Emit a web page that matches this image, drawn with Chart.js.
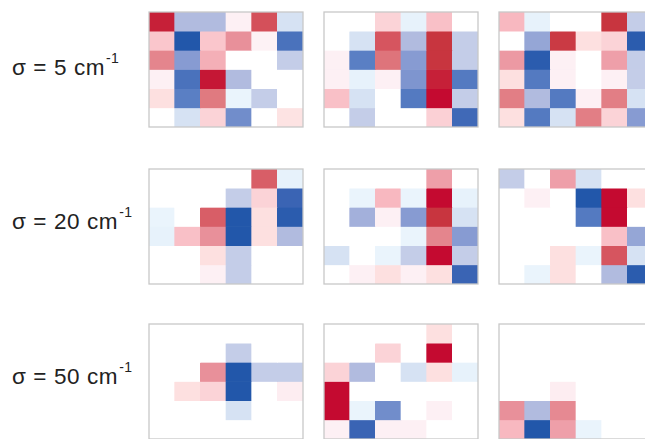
<!DOCTYPE html>
<html>
<head>
<meta charset="utf-8">
<script src="https://cdn.jsdelivr.net/npm/chart.js@4/dist/chart.umd.min.js"></script>
<style>
  html, body { margin: 0; padding: 0; background: #fff; }
  body { width: 645px; height: 439px; overflow: hidden; position: relative; font-family: "Liberation Sans", Arial, sans-serif; }
  .lbl { position: absolute; left: 12px; font-size: 22.5px; letter-spacing: 0.6px; color: #222; white-space: nowrap; line-height: 1; }
  .lbl sup { font-size: 14px; position: relative; top: -3px; margin-left: 1px; letter-spacing: 0.3px; }
  .pan { position: absolute; width: 156px; height: 117px; }
</style>
</head>
<body>
<div class="lbl" id="l0" style="top:54px">σ = 5 cm<sup>-1</sup></div>
<div class="lbl" id="l1" style="top:208px">σ = 20 cm<sup>-1</sup></div>
<div class="lbl" id="l2" style="top:363px">σ = 50 cm<sup>-1</sup></div>
<script>
// Row labels and column categories
const rowLabels = ["σ = 5 cm-1", "σ = 20 cm-1", "σ = 50 cm-1"];
const columns = ["1", "2", "3", "4", "5", "6"];

// Panel values (rows listed top to bottom), scale -1 (blue) .. +1 (red)
const p5a = [
  [0.95, -0.55, -0.55, 0.08, 0.8, -0.25],
  [0.35, -0.98, 0.35, 0.55, 0.07, -0.85],
  [0.6, -0.7, 0.45, 0, 0, -0.4],
  [0.08, -0.85, 0.97, -0.55, 0, 0],
  [0.2, -0.8, 0.65, -0.1, -0.4, 0],
  [0, -0.25, 0.28, -0.75, 0, 0.18]
];
const p5b = [
  [0, 0, 0.28, -0.12, 0.38, 0],
  [0, -0.25, 0.78, -0.55, 0.9, -0.4],
  [0.08, -0.8, 0.67, -0.7, 0.9, -0.4],
  [0.08, -0.12, 0.08, -0.72, 0.95, -0.82],
  [0.38, -0.25, 0, -0.82, 1.0, -0.4],
  [0, -0.4, 0, 0, 0.3, -0.88]
];
const p5c = [
  [0.42, -0.12, 0, 0, 0.9, -0.4],
  [0, -0.65, 0.88, 0.2, 0.28, -0.95],
  [0.52, -0.95, 0.08, 0, 0.5, -0.4],
  [0.2, -0.82, 0.08, 0, 0.08, -0.4],
  [0.63, -0.55, -0.82, 0.08, 0.63, -0.25],
  [0.2, -0.82, -0.25, 0.63, 0.28, -0.7]
];
const p20a = [
  [0, 0, 0, 0, 0.75, -0.12],
  [0, 0, 0, -0.4, 0.28, -0.9],
  [-0.1, 0, 0.75, -0.98, 0.2, -0.95],
  [-0.12, 0.38, 0.55, -0.98, 0.2, -0.55],
  [0, 0, 0.2, -0.4, 0, 0],
  [0, 0, 0.08, -0.4, 0, 0]
];
const p20b = [
  [0, 0, 0, 0, 0.5, 0],
  [0, -0.1, 0.42, -0.1, 1.0, -0.12],
  [0, -0.6, 0.08, -0.7, 0.9, -0.25],
  [0, 0, 0, -0.1, 0.6, -0.7],
  [-0.25, 0, -0.1, -0.4, 1.0, -0.4],
  [0, 0.08, 0.2, 0.08, 0.2, -0.9]
];
const p20c = [
  [-0.4, 0, 0.5, -0.25, 0, 0],
  [0, 0.08, 0, -0.98, 1.0, 0.2],
  [0, 0, 0, -0.82, 1.0, 0],
  [0, 0, 0, 0, 0.38, -0.65],
  [0, 0, 0.2, -0.1, 0.78, -0.25],
  [0, -0.1, 0.2, 0, -0.55, -0.95]
];
const p50a = [
  [0, 0, 0, 0, 0, 0],
  [0, 0, 0, -0.4, 0, 0],
  [0, 0, 0.55, -0.98, -0.4, -0.4],
  [0, 0.2, 0.28, -0.98, 0, 0.1],
  [0, 0, 0, -0.25, 0, 0],
  [0, 0, 0, 0, 0, 0]
];
const p50b = [
  [0, 0, 0, 0, 0.2, 0],
  [0, 0, 0.28, 0, 1.0, 0],
  [0.28, -0.55, 0, -0.25, 0.2, -0.12],
  [1.0, 0, 0, 0, 0, 0],
  [1.0, -0.1, -0.75, 0, 0.08, 0],
  [0.08, -0.9, 0.08, 0.08, 0, 0]
];
const p50c = [
  [0, 0, 0, 0, 0, 0],
  [0, 0, 0, 0, 0, 0],
  [0, 0, 0, 0, 0, 0],
  [0, 0, 0.1, 0, 0, 0],
  [0.55, -0.55, 0.58, 0, 0, 0],
  [0.42, -0.98, 0.5, -0.1, 0, 0]
];

const panels = [
  [p5a, p5b, p5c],
  [p20a, p20b, p20c],
  [p50a, p50b, p50c]
];

// Diverging colour map
const stops = [
  [-1.0, [28, 84, 168]],
  [-0.9, [58, 100, 180]],
  [-0.8, [90, 127, 196]],
  [-0.7, [135, 155, 210]],
  [-0.55, [177, 187, 223]],
  [-0.4, [196, 205, 232]],
  [-0.25, [214, 226, 243]],
  [-0.1, [234, 244, 252]],
  [0, [255, 255, 255]],
  [0.08, [253, 240, 244]],
  [0.2, [253, 224, 224]],
  [0.3, [251, 208, 213]],
  [0.42, [248, 184, 192]],
  [0.55, [232, 144, 154]],
  [0.65, [224, 122, 128]],
  [0.78, [214, 85, 95]],
  [0.9, [200, 53, 63]],
  [1.0, [196, 10, 48]]
];
function cmap(v) {
  if (v <= stops[0][0]) return 'rgb(' + stops[0][1].join(',') + ')';
  for (let i = 1; i < stops.length; i++) {
    if (v <= stops[i][0]) {
      const a = stops[i - 1], b = stops[i];
      const t = (v - a[0]) / (b[0] - a[0]);
      const c = a[1].map((x, k) => Math.round(x + (b[1][k] - x) * t));
      return 'rgb(' + c.join(',') + ')';
    }
  }
  return 'rgb(' + stops[stops.length - 1][1].join(',') + ')';
}

const frame = {
  id: 'frame',
  afterDatasetsDraw(chart) {
    const a = chart.chartArea, ctx = chart.ctx;
    ctx.save();
    ctx.strokeStyle = '#c8c8c8';
    ctx.lineWidth = 1.3;
    ctx.strokeRect(a.left, a.top, a.right - a.left, a.bottom - a.top);
    ctx.restore();
  }
};

const lefts = [148, 323, 498];
const tops = [11, 168, 323];

panels.forEach((row, r) => {
  row.forEach((mat, c) => {
    const div = document.createElement('div');
    div.className = 'pan';
    div.style.left = lefts[c] + 'px';
    div.style.top = tops[r] + 'px';
    const cv = document.createElement('canvas');
    div.appendChild(cv);
    document.body.appendChild(div);
    const datasets = mat.map((vals, i) => ({
      label: 'row ' + (i + 1),
      data: columns.map(() => 1),
      backgroundColor: vals.map(cmap),
      borderWidth: 0,
      barPercentage: 1,
      categoryPercentage: 1
    }));
    new Chart(cv, {
      type: 'bar',
      data: { labels: columns, datasets },
      options: {
        responsive: true,
        maintainAspectRatio: false,
        animation: false,
        layout: { padding: 1 },
        plugins: { legend: { display: false }, tooltip: { enabled: false }, title: { display: false } },
        scales: {
          x: { stacked: true, display: false },
          y: { stacked: true, display: false, reverse: true, min: 0, max: 6 }
        }
      },
      plugins: [frame]
    });
  });
});
</script>
</body>
</html>
